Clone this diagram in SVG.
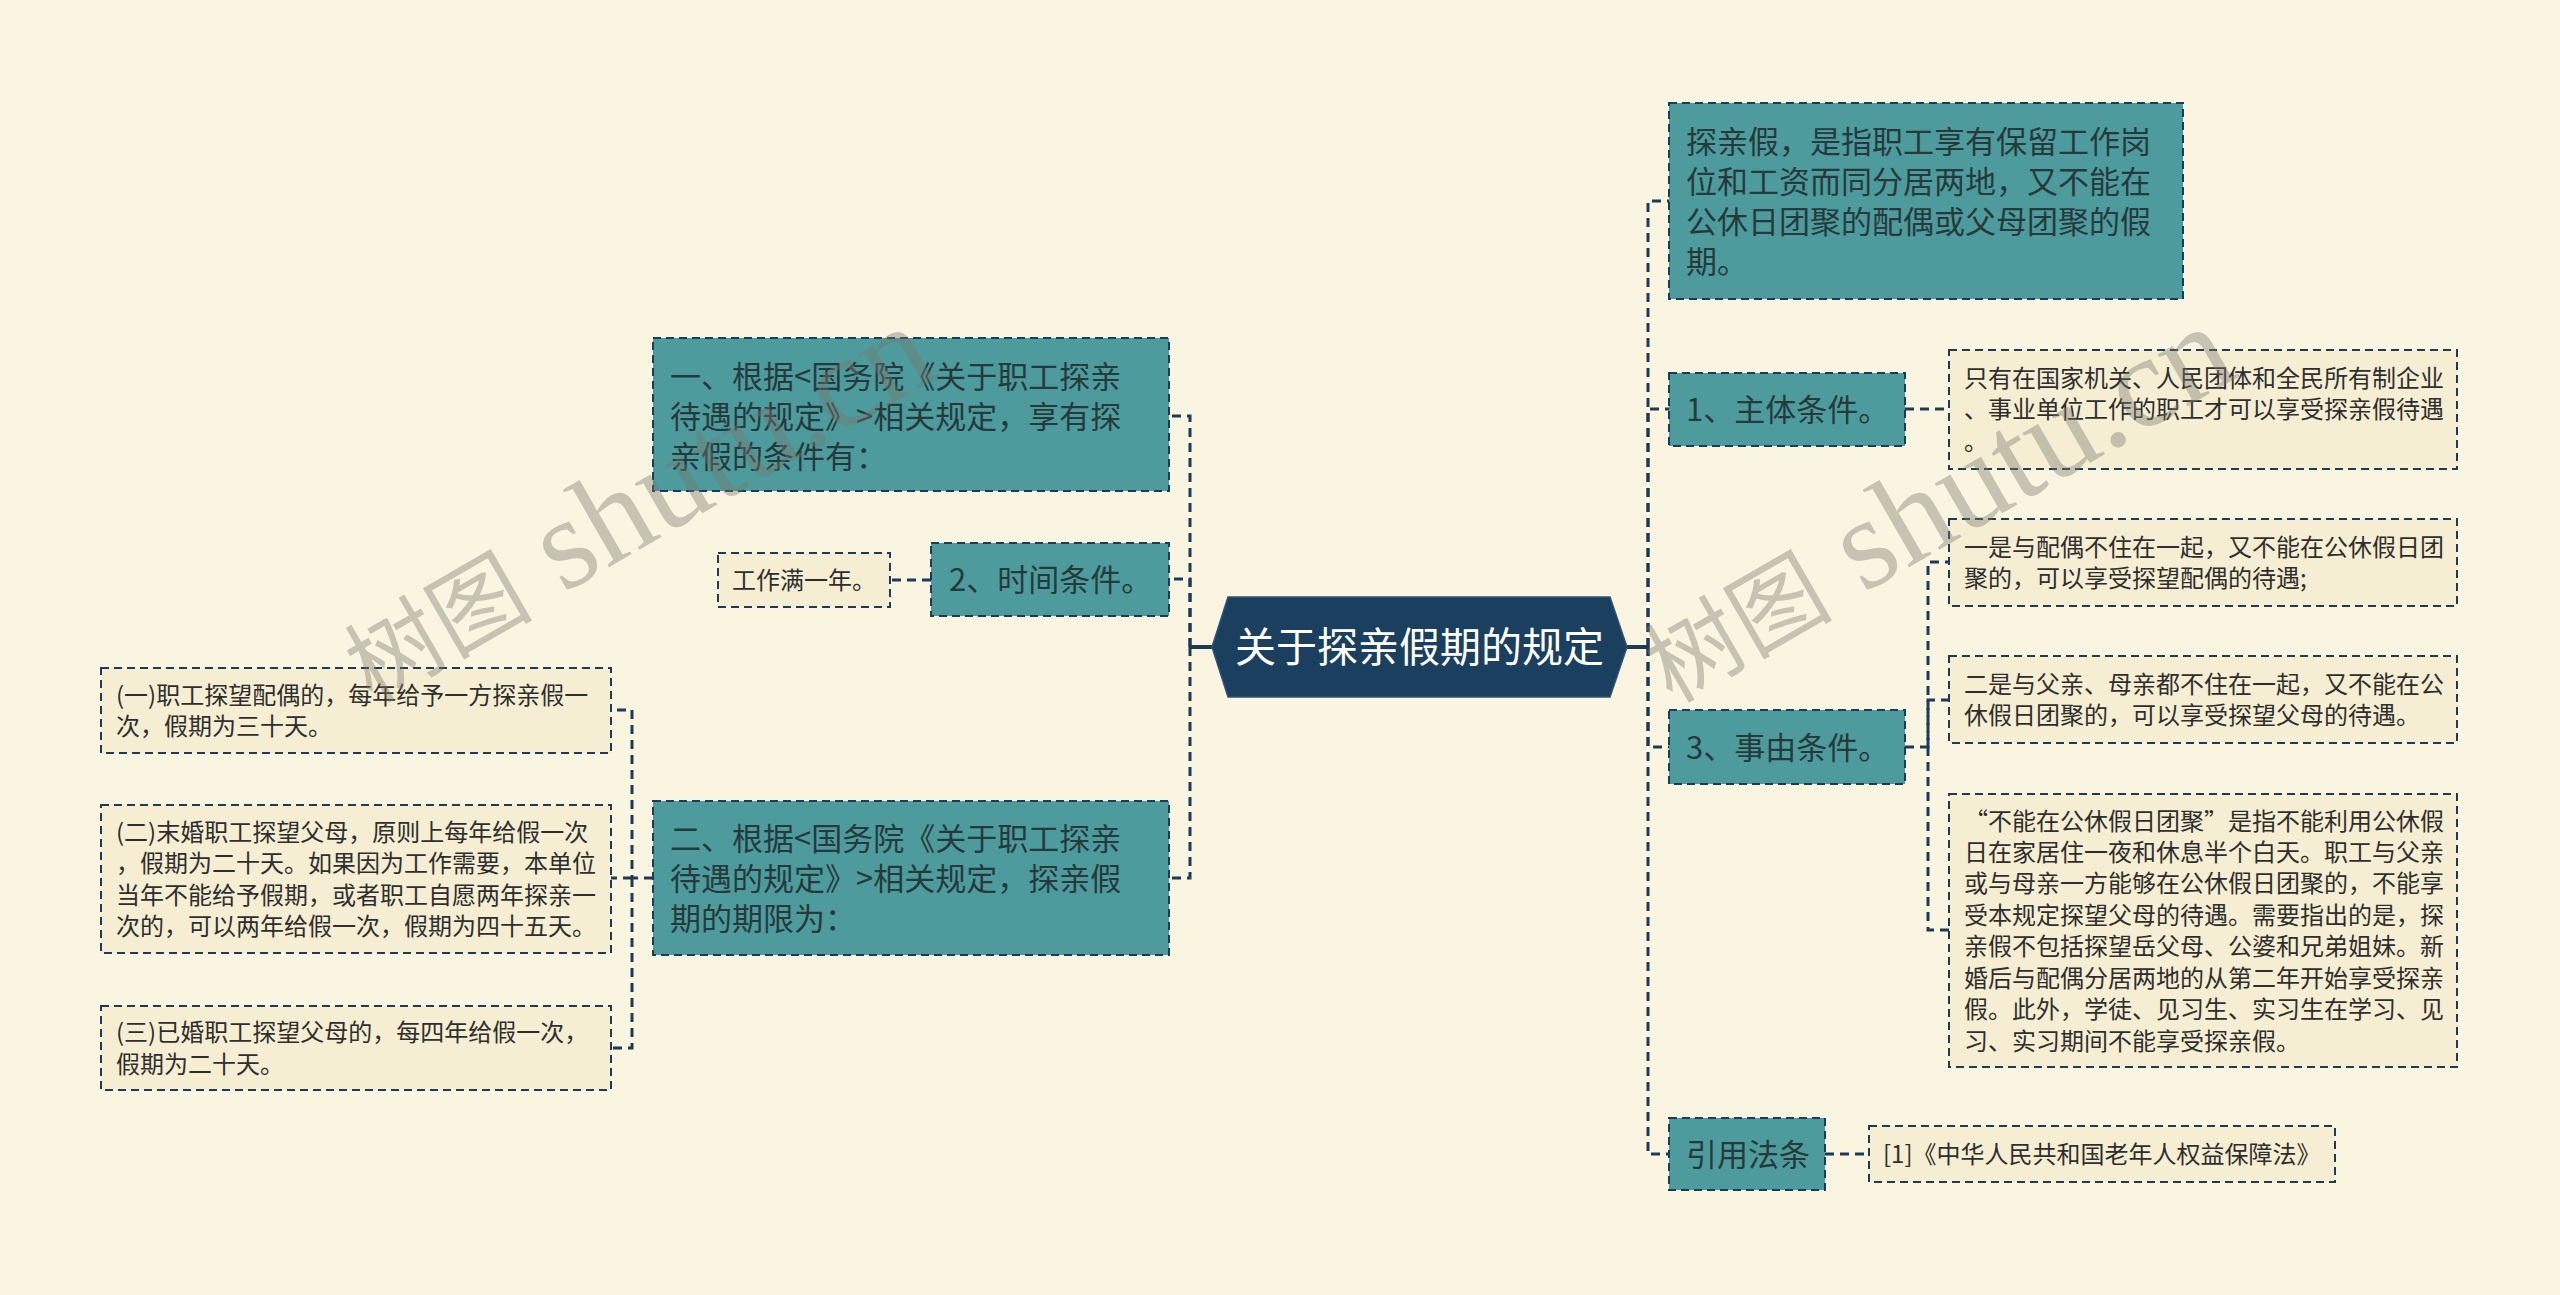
<svg xmlns="http://www.w3.org/2000/svg" width="2560" height="1295" viewBox="0 0 2560 1295">
<style>
.bg{fill:#FAF5E1}
.teal{fill:#4D9B9C;stroke:#1C3B58;stroke-width:2;stroke-dasharray:8 5}
.leaf{fill:#F5EED3;stroke:#1C3B58;stroke-width:2;stroke-dasharray:8 5}
.tt{font-family:"Noto Sans CJK SC","Noto Sans",sans-serif;font-size:31px;fill:#263A3C}
.lt{font-family:"Noto Sans CJK SC","Noto Sans",sans-serif;font-size:24px;fill:#2E2E2E}
.ct{font-family:"Noto Sans CJK SC","Noto Sans",sans-serif;font-size:41px;fill:#FFFFFF}
.con{fill:none;stroke:#1C3B58;stroke-width:3;stroke-dasharray:9 6}
.stub{fill:none;stroke:#1C3B58;stroke-width:4}
.wm{fill:#78786E;fill-opacity:0.4;font-family:"Liberation Serif","Noto Sans CJK SC",serif}
</style>
<rect class="bg" x="0" y="0" width="2560" height="1295"/>

<g id="connectors">
  <path class="stub" d="M1213,647 H1190"/>
  <path class="con" d="M1190,647 V416 H1169"/>
  <path class="con" d="M1190,647 V579 H1169"/>
  <path class="con" d="M1190,647 V878 H1169"/>
  <path class="con" d="M931,580 H890"/>
  <path class="con" d="M653,878 H632 V710 H611"/>
  <path class="con" d="M632,878 H611"/>
  <path class="con" d="M632,878 V1048 H611"/>
  <path class="stub" d="M1626,647 H1648"/>
  <path class="con" d="M1648,647 V201 H1669"/>
  <path class="con" d="M1648,647 V409 H1669"/>
  <path class="con" d="M1648,647 V747 H1669"/>
  <path class="con" d="M1648,647 V1154 H1669"/>
  <path class="con" d="M1905,409 H1949"/>
  <path class="con" d="M1905,747 H1928 V562 H1949"/>
  <path class="con" d="M1928,747 V700 H1949"/>
  <path class="con" d="M1928,747 V930 H1949"/>
  <path class="con" d="M1825,1154 H1869"/>
</g>

<g id="center">
  <polygon points="1212,647 1228,597 1610,597 1627,647 1610,697 1228,697" fill="#1B3F5E" stroke="#2D5474" stroke-width="1.5"/>
  <text class="ct" x="1419.5" y="662" text-anchor="middle">关于探亲假期的规定</text>
</g>

<g id="nodeA">
  <rect class="teal" x="653" y="338" width="516" height="153"/>
  <text class="tt"><tspan x="670" y="388">一、根据&lt;国务院《关于职工探亲</tspan><tspan x="670" y="428">待遇的规定》&gt;相关规定，享有探</tspan><tspan x="670" y="468">亲假的条件有：</tspan></text>
</g>

<g id="node2">
  <rect class="teal" x="931" y="543" width="238" height="73"/>
  <text class="tt" x="949" y="591">2、时间条件。</text>
</g>

<g id="leaf2a">
  <rect class="leaf" x="718" y="553" width="172" height="54"/>
  <text class="lt" x="732" y="589">工作满一年。</text>
</g>

<g id="nodeB">
  <rect class="teal" x="653" y="801" width="516" height="154"/>
  <text class="tt"><tspan x="670" y="850">二、根据&lt;国务院《关于职工探亲</tspan><tspan x="670" y="890">待遇的规定》&gt;相关规定，探亲假</tspan><tspan x="670" y="930">期的期限为：</tspan></text>
</g>

<g id="leafB1">
  <rect class="leaf" x="101" y="668" width="510" height="85"/>
  <text class="lt"><tspan x="116" y="704">(一)职工探望配偶的，每年给予一方探亲假一</tspan><tspan x="116" y="735">次，假期为三十天。</tspan></text>
</g>

<g id="leafB2">
  <rect class="leaf" x="101" y="805" width="510" height="148"/>
  <text class="lt"><tspan x="116" y="841">(二)末婚职工探望父母，原则上每年给假一次</tspan><tspan x="116" y="872">，假期为二十天。如果因为工作需要，本单位</tspan><tspan x="116" y="904">当年不能给予假期，或者职工自愿两年探亲一</tspan><tspan x="116" y="935">次的，可以两年给假一次，假期为四十五天。</tspan></text>
</g>

<g id="leafB3">
  <rect class="leaf" x="101" y="1006" width="510" height="84"/>
  <text class="lt"><tspan x="116" y="1041">(三)已婚职工探望父母的，每四年给假一次，</tspan><tspan x="116" y="1073">假期为二十天。</tspan></text>
</g>

<g id="nodeDef">
  <rect class="teal" x="1669" y="103" width="514" height="196"/>
  <text class="tt"><tspan x="1686" y="153">探亲假，是指职工享有保留工作岗</tspan><tspan x="1686" y="193">位和工资而同分居两地，又不能在</tspan><tspan x="1686" y="233">公休日团聚的配偶或父母团聚的假</tspan><tspan x="1686" y="273">期。</tspan></text>
</g>

<g id="node1">
  <rect class="teal" x="1669" y="373" width="236" height="73"/>
  <text class="tt" x="1686" y="421">1、主体条件。</text>
</g>

<g id="leaf1a">
  <rect class="leaf" x="1949" y="350" width="508" height="119"/>
  <text class="lt"><tspan x="1964" y="387">只有在国家机关、人民团体和全民所有制企业</tspan><tspan x="1964" y="418">、事业单位工作的职工才可以享受探亲假待遇</tspan><tspan x="1964" y="450">。</tspan></text>
</g>

<g id="node3">
  <rect class="teal" x="1669" y="710" width="236" height="74"/>
  <text class="tt" x="1686" y="759">3、事由条件。</text>
</g>

<g id="leaf3a">
  <rect class="leaf" x="1949" y="519" width="508" height="87"/>
  <text class="lt"><tspan x="1964" y="556">一是与配偶不住在一起，又不能在公休假日团</tspan><tspan x="1964" y="587">聚的，可以享受探望配偶的待遇;</tspan></text>
</g>

<g id="leaf3b">
  <rect class="leaf" x="1949" y="656" width="508" height="87"/>
  <text class="lt"><tspan x="1964" y="693">二是与父亲、母亲都不住在一起，又不能在公</tspan><tspan x="1964" y="724">休假日团聚的，可以享受探望父母的待遇。</tspan></text>
</g>

<g id="leaf3c">
  <rect class="leaf" x="1949" y="794" width="508" height="273"/>
  <text class="lt"><tspan x="1964" y="830">“不能在公休假日团聚”是指不能利用公休假</tspan><tspan x="1964" y="861">日在家居住一夜和休息半个白天。职工与父亲</tspan><tspan x="1964" y="892">或与母亲一方能够在公休假日团聚的，不能享</tspan><tspan x="1964" y="924">受本规定探望父母的待遇。需要指出的是，探</tspan><tspan x="1964" y="955">亲假不包括探望岳父母、公婆和兄弟姐妹。新</tspan><tspan x="1964" y="987">婚后与配偶分居两地的从第二年开始享受探亲</tspan><tspan x="1964" y="1018">假。此外，学徒、见习生、实习生在学习、见</tspan><tspan x="1964" y="1050">习、实习期间不能享受探亲假。</tspan></text>
</g>

<g id="nodeRef">
  <rect class="teal" x="1669" y="1118" width="156" height="72"/>
  <text class="tt" x="1686" y="1166">引用法条</text>
</g>

<g id="leafRef">
  <rect class="leaf" x="1869" y="1126" width="466" height="56"/>
  <text class="lt" x="1883" y="1163">[1]《中华人民共和国老年人权益保障法》</text>
</g>

<g id="watermarks">
  <text class="wm" transform="translate(372,704) rotate(-30)"><tspan font-size="94">树图</tspan><tspan font-size="130"> shutu.cn</tspan></text>
  <text class="wm" transform="translate(1672,704) rotate(-30)"><tspan font-size="94">树图</tspan><tspan font-size="130"> shutu.cn</tspan></text>
</g>
</svg>
